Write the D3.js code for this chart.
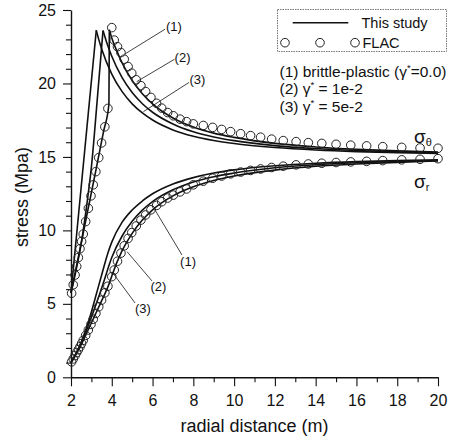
<!DOCTYPE html>
<html>
<head>
<meta charset="utf-8">
<script src="https://cdn.jsdelivr.net/npm/d3@7"></script>
<style>
  html, body { margin: 0; padding: 0; background: #fff; }
  svg { display: block; font-family: "Liberation Sans", Arial, sans-serif; }
</style>
</head>
<body>
<svg id="chart" width="453" height="440"></svg>
<script>
// ---- axis ticks ----
const xMajor = [2, 4, 6, 8, 10, 12, 14, 16, 18, 20];
const xMinor = [3, 5, 7, 9, 11, 13, 15, 17, 19];
const yMajor = [0, 5, 10, 15, 20, 25];
const yMinor = [1, 2, 3, 4, 6, 7, 8, 9, 11, 12, 13, 14, 16, 17, 18, 19, 21, 22, 23, 24];

// ---- analytical solution ("This study"): hoop stress sigma_theta ----
const hoop1R = [2.0, 2.4, 2.8, 3.2, 3.6, 3.86, 3.88, 4.0, 4.25, 4.5, 5.0, 5.5, 6.0, 7.0, 8.0, 9.0, 10.0, 12.0, 14.0, 16.0, 18.0, 20.0];
const hoop1  = [5.75, 8.45, 11.2, 13.95, 16.75, 18.6, 23.65, 23.1, 22.2, 21.42, 20.2, 19.3, 18.61, 17.65, 17.03, 16.62, 16.33, 15.92, 15.68, 15.52, 15.41, 15.33];
const hoop2R = [2.0, 2.25, 2.5, 2.75, 3.0, 3.3, 3.57, 3.75, 4.0, 4.5, 5.0, 5.5, 6.0, 7.0, 8.0, 9.0, 10.0, 12.0, 14.0, 16.0, 18.0, 20.0];
const hoop2  = [5.75, 7.3, 9.1, 11.5, 14.3, 19.1, 23.6, 22.79, 21.85, 20.41, 19.38, 18.62, 18.04, 17.24, 16.71, 16.36, 16.11, 15.77, 15.57, 15.44, 15.35, 15.28];
const hoop3R = [2.0, 3.24, 3.35, 3.5, 4.0, 4.5, 5.0, 5.5, 6.0, 7.0, 8.0, 9.0, 10.0, 12.0, 14.0, 16.0, 18.0, 20.0];
const hoop3  = [5.75, 23.62, 23.05, 22.37, 20.64, 19.46, 18.61, 17.99, 17.51, 16.84, 16.41, 16.12, 15.91, 15.64, 15.47, 15.36, 15.29, 15.24];

// ---- analytical solution: radial stress sigma_r ----
const rad1R = [2.0, 2.4, 2.8, 3.2, 3.5, 3.88, 4.0, 4.5, 5.0, 5.5, 6.0, 7.0, 8.0, 9.0, 10.0, 12.0, 14.0, 16.0, 18.0, 20.0];
const rad1  = [1.0, 1.95, 3.1, 4.3, 5.2, 6.4, 6.9, 8.6, 9.8, 10.7, 11.4, 12.35, 12.97, 13.4, 13.7, 14.1, 14.36, 14.52, 14.63, 14.72];
const rad2R = [2.0, 2.4, 2.8, 3.2, 3.57, 4.0, 4.5, 5.0, 5.5, 6.0, 7.0, 8.0, 9.0, 10.0, 12.0, 14.0, 16.0, 18.0, 20.0];
const rad2  = [1.0, 2.05, 3.35, 4.85, 6.35, 8.15, 9.6, 10.62, 11.38, 11.96, 12.76, 13.29, 13.65, 13.9, 14.26, 14.47, 14.6, 14.69, 14.76];
const rad3R = [2.0, 2.2, 2.4, 2.6, 2.8, 3.0, 3.24, 3.5, 3.83, 4.0, 4.5, 5.0, 5.5, 6.0, 7.0, 8.0, 9.0, 10.0, 12.0, 14.0, 16.0, 18.0, 20.0];
const rad3  = [1.0, 1.45, 2.05, 2.75, 3.55, 4.45, 5.65, 6.95, 8.55, 9.2, 10.54, 11.39, 12.0, 12.49, 13.16, 13.59, 13.9, 14.12, 14.4, 14.57, 14.68, 14.75, 14.8];

// ---- FLAC results (case 1) ----
const flacR = [2.03, 2.11, 2.20, 2.28, 2.36, 2.44, 2.52, 2.60, 2.72, 2.85, 2.98, 3.09, 3.22, 3.36, 3.50, 3.66, 3.81,
               4.00, 4.12, 4.28, 4.45, 4.61, 4.80, 4.98, 5.20, 5.43, 5.66, 5.92, 6.20, 6.45, 6.74, 7.02, 7.35, 7.67, 8.00,
               8.49, 8.95, 9.39, 9.83, 10.32, 10.81, 11.30, 11.84, 12.41, 13.04, 13.64, 14.30, 15.00, 15.72, 16.50, 17.29, 18.22, 19.12, 20.00];
const flacHoop = [5.72, 6.30, 6.96, 7.55, 8.15, 8.75, 9.25, 9.75, 10.6, 11.5, 12.35, 13.1, 14.0, 14.95, 15.95, 17.05, 18.3,
                  23.8, 22.95, 22.5, 22.1, 21.65, 21.15, 20.7, 20.25, 19.85, 19.45, 19.05, 18.65, 18.32, 18.02, 17.8, 17.57, 17.4, 17.25,
                  17.14, 17.01, 16.87, 16.72, 16.58, 16.45, 16.34, 16.21, 16.11, 16.04, 15.97, 15.92, 15.86, 15.8, 15.75, 15.7, 15.65, 15.61, 15.59];
const flacRadial = [1.05, 1.25, 1.48, 1.68, 1.88, 2.08, 2.3, 2.52, 2.85, 3.22, 3.6, 3.95, 4.35, 4.8, 5.25, 5.75, 6.2,
                    6.85, 7.3, 7.9, 8.45, 8.95, 9.45, 9.85, 10.3, 10.7, 11.05, 11.4, 11.7, 11.95, 12.2, 12.4, 12.62, 12.82, 13.1,
                    13.35, 13.55, 13.7, 13.85, 13.97, 14.08, 14.18, 14.28, 14.37, 14.46, 14.52, 14.57, 14.62, 14.66, 14.7, 14.75, 14.8, 14.84, 14.88];

// ---- curve call-outs: text centre and leader line, in data units ----
const noteLabels = ["(1)", "(2)", "(3)", "(1)", "(2)", "(3)"];
const noteText   = [[7.05, 23.87], [7.47, 21.74], [8.20, 20.24], [7.74, 7.85], [6.29, 6.15], [5.53, 4.68]];
const noteFrom   = [[6.61, 23.69], [7.08, 21.65], [7.79, 20.07], [7.44, 8.33], [5.97, 6.56], [5.14, 5.06]];
const noteTo     = [[4.65, 22.01], [5.22, 20.12], [5.55, 18.08], [6.12, 11.39], [4.75, 8.55], [4.04, 7.13]];

// ---- legend / case descriptions ----
const legendItems = ["This study", "FLAC"];
const caseNotes = [
  ["(1) brittle-plastic (\u03b3", "*", "=0.0)"],
  ["(2) \u03b3", "*", " = 1e-2"],
  ["(3) \u03b3", "*", " = 5e-2"]
];

// ================= drawing =================
const svg = d3.select("#chart");
const x = d3.scaleLinear().domain([2, 20]).range([71, 438]);
const y = d3.scaleLinear().domain([0, 25]).range([377.3, 10]);
const ink = "#111";

// axes
const gx = svg.append("g").attr("transform", `translate(0,${y(0)})`)
  .call(d3.axisBottom(x).tickValues(xMajor).tickSize(9).tickSizeOuter(0).tickPadding(8).tickFormat(d3.format("d")));
const gxm = svg.append("g").attr("transform", `translate(0,${y(0)})`)
  .call(d3.axisBottom(x).tickValues(xMinor).tickSize(5).tickFormat(""));
const gy = svg.append("g").attr("transform", `translate(${x(2)},0)`)
  .call(d3.axisLeft(y).tickValues(yMajor).tickSize(8).tickSizeOuter(0).tickPadding(7).tickFormat(d3.format("d")));
const gym = svg.append("g").attr("transform", `translate(${x(2)},0)`)
  .call(d3.axisLeft(y).tickValues(yMinor).tickSize(5).tickFormat(""));
gxm.select(".domain").remove();
gym.select(".domain").remove();
[gx, gy].forEach(g => {
  g.select(".domain").attr("stroke", ink).attr("stroke-width", 1.4);
  g.selectAll(".tick text").attr("font-size", 16).attr("fill", ink)
   .attr("font-family", "'Liberation Sans', Arial, sans-serif");
});
[gx, gxm, gy, gym].forEach(g => g.selectAll(".tick line").attr("stroke", ink).attr("stroke-width", 1.1));

// axis titles
svg.append("text").attr("x", (x(2) + x(20)) / 2).attr("y", 432)
  .attr("text-anchor", "middle").attr("font-size", 18).attr("fill", ink)
  .text("radial distance (m)");
svg.append("text").attr("transform", "translate(28,197) rotate(-90)")
  .attr("text-anchor", "middle").attr("font-size", 18).attr("fill", ink)
  .text("stress (Mpa)");

// analytical curves; hoop curves are split at their peak so the corner stays sharp
const line = d3.line().x(d => x(d[0])).y(d => y(d[1])).curve(d3.curveMonotoneX);
function drawCurve(rs, vs) {
  const pts = rs.map((r, i) => [r, vs[i]]);
  const k = d3.maxIndex(vs);
  const parts = k < pts.length - 1 ? [pts.slice(0, k + 1), pts.slice(k)] : [pts];
  parts.forEach(p => {
    svg.append("path").attr("d", line(p))
      .attr("fill", "none").attr("stroke", ink).attr("stroke-width", 1.6)
      .attr("stroke-linejoin", "miter");
  });
}
drawCurve(hoop1R, hoop1);
drawCurve(hoop2R, hoop2);
drawCurve(hoop3R, hoop3);
drawCurve(rad1R, rad1);
drawCurve(rad2R, rad2);
drawCurve(rad3R, rad3);

// FLAC markers
const markers = svg.append("g").attr("fill", "none").attr("stroke", "#222").attr("stroke-width", 1);
markers.selectAll("circle.h").data(flacR).join("circle").attr("class", "h")
  .attr("cx", d => x(d)).attr("cy", (d, i) => y(flacHoop[i])).attr("r", 4.3);
markers.selectAll("circle.r").data(flacR).join("circle").attr("class", "r")
  .attr("cx", d => x(d)).attr("cy", (d, i) => y(flacRadial[i])).attr("r", 4.3);

// call-outs
noteLabels.forEach((lab, i) => {
  svg.append("line")
    .attr("x1", x(noteFrom[i][0])).attr("y1", y(noteFrom[i][1]))
    .attr("x2", x(noteTo[i][0])).attr("y2", y(noteTo[i][1]))
    .attr("stroke", ink).attr("stroke-width", 0.8);
  svg.append("text").attr("x", x(noteText[i][0])).attr("y", y(noteText[i][1]))
    .attr("text-anchor", "middle").attr("dominant-baseline", "central")
    .attr("font-size", 13).attr("fill", ink).text(lab);
});

// stress component labels at the right end
function sigmaLabel(xp, yp, sub) {
  const t = svg.append("text").attr("x", xp).attr("y", yp).attr("fill", ink);
  t.append("tspan").attr("font-size", 19).text("\u03c3");
  t.append("tspan").attr("font-size", 11).attr("dy", 3).text(sub);
}
sigmaLabel(414, 143, "\u03b8");
sigmaLabel(414, 188, "r");

// legend
const lg = svg.append("g");
lg.append("rect").attr("x", 277.5).attr("y", 9.5).attr("width", 169).attr("height", 42)
  .attr("fill", "#fff").attr("stroke", "#777").attr("stroke-width", 1).attr("stroke-dasharray", "1.5,1");
lg.append("line").attr("x1", 292.7).attr("x2", 348.3).attr("y1", 22.7).attr("y2", 22.7)
  .attr("stroke", ink).attr("stroke-width", 1.6);
[285, 320, 355].forEach(cx => lg.append("circle").attr("cx", cx).attr("cy", 42.7).attr("r", 4.3)
  .attr("fill", "none").attr("stroke", "#222").attr("stroke-width", 1));
lg.selectAll("text.item").data(legendItems).join("text").attr("class", "item")
  .attr("x", (d, i) => i === 0 ? 361.5 : 362.5).attr("y", (d, i) => i === 0 ? 22.7 : 42.7)
  .attr("dominant-baseline", "central").attr("font-size", 14.5).attr("fill", ink).text(d => d);

// case descriptions
const caseBase = [76.5, 94, 111.5];
caseNotes.forEach((parts, i) => {
  const t = svg.append("text").attr("x", 279.5).attr("y", caseBase[i]).attr("font-size", 15.5).attr("fill", ink);
  t.append("tspan").text(parts[0]);
  t.append("tspan").attr("font-size", 9.5).attr("dy", -6).text(parts[1]);
  t.append("tspan").attr("dy", 6).text(parts[2]);
});
</script>
</body>
</html>
